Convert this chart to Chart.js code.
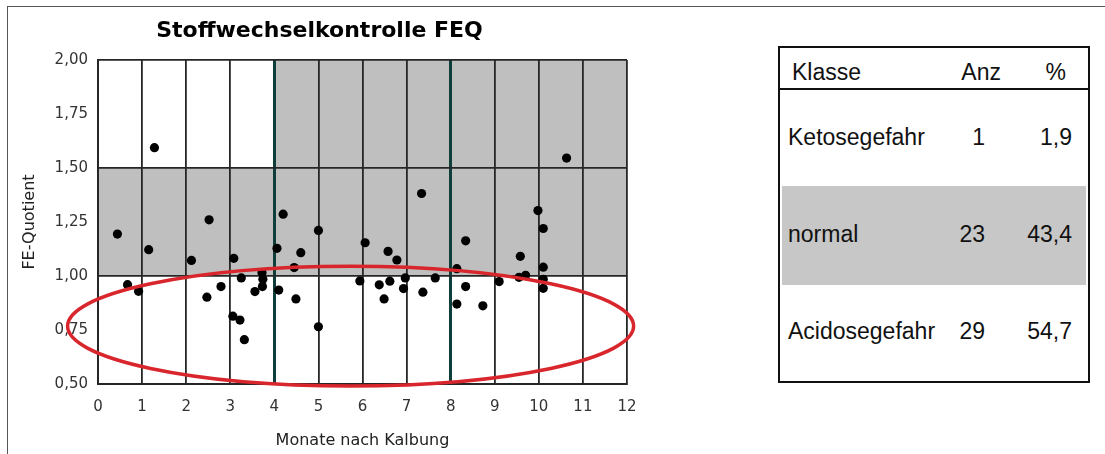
<!DOCTYPE html>
<html lang="de">
<head>
<meta charset="utf-8">
<title>Stoffwechselkontrolle FEQ</title>
<script src="https://cdn.jsdelivr.net/npm/chart.js@4/dist/chart.umd.min.js"></script>
<style>
  html, body { margin: 0; padding: 0; background: #fff; }
  body { width: 1105px; height: 454px; position: relative; overflow: hidden; font-family: "Liberation Sans", Arial, sans-serif; }
  #frame { position: absolute; left: 7px; top: 6px; right: -4px; bottom: -4px; border-top: 1.5px solid #555; border-left: 1.5px solid #555; }
  #chartWrap { position: absolute; left: 0; top: 0; width: 700px; height: 454px; }
  #klassen { position: absolute; left: 778px; top: 46px; width: 308px; height: 333px; border: 2px solid #111; }
  #klassen .rule { position: absolute; left: 0; right: 0; top: 40px; height: 2px; background: #111; }
  #klassen .band { position: absolute; left: 2px; right: 2px; background: #c6c7c6; }
  #klassen .cell { position: absolute; height: 28px; line-height: 28px; font-size: 23px; color: #111; white-space: nowrap; }
  #klassen .r { text-align: right; }
</style>
</head>
<body>
<div id="frame"></div>
<div id="chartWrap"><canvas id="chart" width="700" height="454"></canvas></div>
<div id="klassen"></div>

<script>
// Messpunkte: Monate nach Kalbung / FE-Quotient
const months = [
  1.28, 0.44, 1.15, 2.52, 2.12, 0.67, 0.92, 2.79, 2.47, 3.08,
  3.06, 3.22, 3.32, 3.25, 3.72, 3.74, 3.73, 3.56, 4.10, 4.06,
  4.20, 4.60, 4.45, 4.49, 5.00, 5.00, 5.94, 6.06, 6.58, 6.78,
  6.38, 6.62, 6.49, 6.97, 6.93, 7.34, 7.37, 7.65, 8.14, 8.34,
  8.34, 8.14, 8.73, 9.10, 9.55, 9.70, 9.58, 9.98, 10.10, 10.10,
  10.10, 10.10, 10.63
];
const feq = [
  1.594, 1.194, 1.122, 1.260, 1.072, 0.960, 0.929, 0.951, 0.902, 1.082,
  0.814, 0.796, 0.705, 0.991, 1.015, 0.985, 0.951, 0.928, 0.935, 1.128,
  1.286, 1.108, 1.039, 0.894, 1.211, 0.765, 0.977, 1.154, 1.114, 1.074,
  0.959, 0.976, 0.894, 0.991, 0.942, 1.382, 0.925, 0.991, 1.034, 1.163,
  0.951, 0.870, 0.862, 0.974, 0.994, 1.003, 1.091, 1.303, 1.220, 1.041,
  0.985, 0.943, 1.546
];

const yTicks = [0.5, 0.75, 1.0, 1.25, 1.5, 1.75, 2.0];
const yGridLines = [0.5, 1.0, 1.5, 2.0];
const xMarkers = [4, 8]; // dicke Linien bei 4 und 8 Monaten

// Normalbereich (grau): [xVon, xBis, yVon, yBis]
const normalZones = [
  [0, 12, 1.0, 1.5],
  [4, 12, 1.5, 2.0]
];

// rote Markierung, in Achsenwerten: Mitte, Halbachsen
const ringCenter = [5.73, 0.768];
const ringRadius = [6.42, 0.277];

// Tabelle rechts
const klassen = ["Ketosegefahr", "normal", "Acidosegefahr"];
const anzahl = [1, 23, 29];
const prozent = [1.9, 43.4, 54.7];

const fmt = (v, d) => v.toFixed(d).replace(".", ",");

const zonesPlugin = {
  id: "zones",
  beforeDraw(chart) {
    const { ctx, scales: { x, y } } = chart;
    ctx.save();
    ctx.fillStyle = "#bebfbe";
    normalZones.forEach(([x0, x1, y0, y1]) => {
      const px0 = x.getPixelForValue(x0), px1 = x.getPixelForValue(x1);
      const py0 = y.getPixelForValue(y1), py1 = y.getPixelForValue(y0);
      ctx.fillRect(px0, py0, px1 - px0, py1 - py0);
    });
    ctx.restore();
  }
};

const ringPlugin = {
  id: "ring",
  afterDatasetsDraw(chart) {
    const { ctx, scales: { x, y } } = chart;
    const cx = x.getPixelForValue(ringCenter[0]);
    const cy = y.getPixelForValue(ringCenter[1]);
    const rx = x.getPixelForValue(ringCenter[0] + ringRadius[0]) - cx;
    const ry = cy - y.getPixelForValue(ringCenter[1] + ringRadius[1]);
    ctx.save();
    ctx.strokeStyle = "#d8262c";
    ctx.lineWidth = 3.5;
    ctx.beginPath();
    ctx.ellipse(cx, cy, rx, ry, 0, 0, Math.PI * 2);
    ctx.stroke();
    ctx.restore();
  }
};

new Chart(document.getElementById("chart"), {
  type: "scatter",
  data: {
    datasets: [{
      data: months.map((m, i) => ({ x: m, y: feq[i] })),
      backgroundColor: "#000",
      borderWidth: 0,
      pointRadius: 4.6,
      pointHoverRadius: 4.6
    }]
  },
  options: {
    responsive: false,
    animation: false,
    events: [],
    layout: { padding: { left: 12, right: 73, top: 0, bottom: 4 } },
    plugins: {
      legend: { display: false },
      tooltip: { enabled: false },
      title: {
        display: true,
        text: "Stoffwechselkontrolle FEQ",
        color: "#000",
        font: { family: "DejaVu Sans", size: 22, weight: "bold" },
        padding: { top: 18, bottom: 15.6 }
      }
    },
    scales: {
      x: {
        type: "linear",
        min: 0,
        max: 12,
        afterFit: s => { s.height = 66; },
        ticks: { stepSize: 1, color: "#333", padding: 14, font: { family: "DejaVu Sans", size: 15 } },
        grid: {
          drawTicks: false,
          color: c => xMarkers.includes(c.tick.value) ? "#0f3d3a" : "#262626",
          lineWidth: c => xMarkers.includes(c.tick.value) ? 3 : 1.8
        },
        border: { color: "#262626", width: 2 },
        title: {
          display: true,
          text: "Monate nach Kalbung",
          color: "#222",
          font: { family: "DejaVu Sans", size: 16 },
          padding: { top: 0, bottom: 0 }
        }
      },
      y: {
        min: 0.5,
        max: 2.0,
        afterFit: s => { s.width = 86; },
        afterBuildTicks: s => { s.ticks = yTicks.map(v => ({ value: v })); },
        ticks: { color: "#333", padding: 10, font: { family: "DejaVu Sans", size: 15 }, callback: v => fmt(v, 2) },
        grid: {
          drawTicks: false,
          color: c => yGridLines.includes(c.tick.value) ? "#262626" : "rgba(0,0,0,0)",
          lineWidth: 1.8
        },
        border: { color: "#262626", width: 2 },
        title: {
          display: true,
          text: "FE-Quotient",
          color: "#222",
          font: { family: "DejaVu Sans", size: 16 },
          padding: { top: 8, bottom: 0 }
        }
      }
    }
  },
  plugins: [zonesPlugin, ringPlugin]
});

// Klassentabelle
function renderKlassen() {
  const box = document.getElementById("klassen");
  // Koordinaten relativ zur Box (Innenkante)
  const rowCenters = [89, 186, 283];
  const cell = (text, left, center, right) => {
    const pos = right ? `right:${right}px;` : `left:${left}px;`;
    return `<div class="cell${right ? " r" : ""}" style="${pos}top:${center - 14}px">${text}</div>`;
  };
  let html = `<div class="band" style="top:138px;height:99px"></div>`;
  html += cell("Klasse", 12, 24);
  html += cell("Anz", 0, 24, 87);
  html += cell("%", 0, 24, 22);
  html += `<div class="rule"></div>`;
  klassen.forEach((k, i) => {
    html += cell(k, 8, rowCenters[i]);
    html += cell(String(anzahl[i]), 0, rowCenters[i], 103);
    html += cell(fmt(prozent[i], 1), 0, rowCenters[i], 16);
  });
  box.innerHTML = html;
}
renderKlassen();
</script>
</body>
</html>
